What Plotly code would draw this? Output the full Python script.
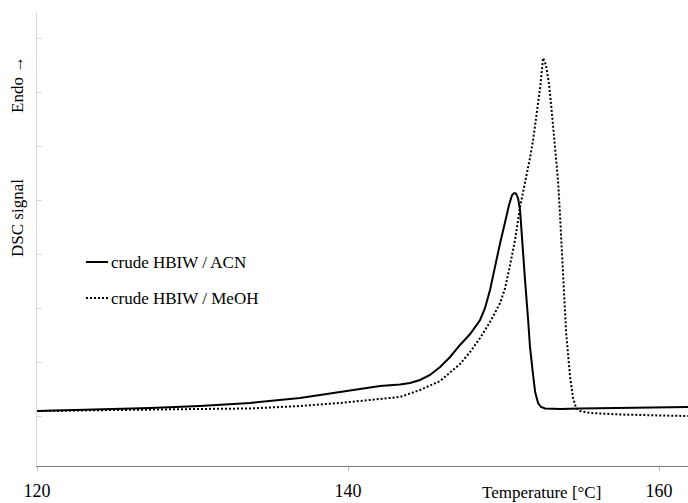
import plotly.graph_objects as go

# Temperature [°C] and DSC signal (arbitrary units, endo up)
acn_temp = [120.00, 124.05, 127.27, 130.48, 133.70, 136.91, 139.49, 142.06, 143.34, 143.99,
            144.63, 145.27, 145.92, 146.56, 147.20, 147.85, 148.49, 148.81, 149.13, 149.45,
            149.78, 150.10, 150.35, 150.55, 150.68, 150.80, 150.93, 151.06, 151.19, 151.38,
            151.58, 151.70, 151.90, 152.03, 152.22, 152.41, 152.67, 153.63, 154.92, 157.49,
            160.06, 161.86]
acn_signal = [0.111, 0.139, 0.166, 0.203, 0.259, 0.351, 0.462, 0.573, 0.601, 0.628,
              0.684, 0.776, 0.924, 1.109, 1.331, 1.534, 1.793, 2.015, 2.348, 2.810,
              3.216, 3.604, 3.919, 4.104, 4.140, 4.131, 4.048, 3.826, 3.364, 2.532,
              1.793, 1.294, 0.776, 0.462, 0.259, 0.185, 0.157, 0.148, 0.157, 0.166,
              0.185, 0.185]

meoh_temp = [120.00, 124.05, 127.27, 130.48, 133.70, 136.91, 139.49, 142.06, 143.34, 144.63,
             145.92, 147.20, 147.85, 148.49, 149.13, 149.78, 150.10, 150.42, 150.74, 151.06,
             151.38, 151.70, 151.90, 152.15, 152.35, 152.48, 152.54, 152.73, 152.93, 153.12,
             153.31, 153.50, 153.63, 153.83, 154.02, 154.28, 154.47, 154.66, 154.92, 155.56,
             157.49, 160.06, 161.86]
meoh_signal = [0.111, 0.129, 0.139, 0.148, 0.157, 0.203, 0.259, 0.333, 0.370, 0.499,
               0.665, 0.980, 1.201, 1.460, 1.756, 2.107, 2.384, 2.810, 3.272, 3.882,
               4.325, 4.787, 5.120, 5.619, 6.081, 6.451, 6.636, 6.506, 6.137, 5.582,
               5.028, 4.381, 3.734, 2.532, 1.571, 0.739, 0.351, 0.166, 0.111, 0.074,
               0.046, 0.028, 0.018]

series_names = ["crude HBIW / ACN", "crude HBIW / MeOH"]
x_ticks = [120, 140, 160]
y_ticks = [0, 1, 2, 3, 4, 5, 6, 7]

FONT = "Liberation Serif, Times New Roman, serif"

fig = go.Figure()
fig.add_trace(go.Scatter(x=acn_temp, y=acn_signal, mode="lines", name=series_names[0],
                         line=dict(color="#000000", width=2)))
fig.add_trace(go.Scatter(x=meoh_temp, y=meoh_signal, mode="lines", name=series_names[1],
                         line=dict(color="#000000", width=2, dash="2px,2px")))

L, T, W, H = 37, 12, 651, 454


def px(x):
    return (x - L) / W


def py(y):
    return (T + H - y) / H


annotations = [
    dict(text="Endo →", x=px(17), y=py(85), xref="paper", yref="paper", textangle=-90,
         showarrow=False, font=dict(family=FONT, size=17, color="#000"), xanchor="center", yanchor="middle"),
    dict(text="DSC signal", x=px(17), y=py(218), xref="paper", yref="paper", textangle=-90,
         showarrow=False, font=dict(family=FONT, size=17, color="#000"), xanchor="center", yanchor="middle"),
    dict(text="Temperature [°C]", x=px(541), y=py(492), xref="paper", yref="paper",
         showarrow=False, font=dict(family=FONT, size=17, color="#000"), xanchor="center", yanchor="middle"),
]
shapes = []
legend_rows = [(262, "solid"), (298, "2px,2px")]
for name, (ry, dash) in zip(series_names, legend_rows):
    shapes.append(dict(type="line", xref="paper", yref="paper", x0=px(86), x1=px(108), y0=py(ry), y1=py(ry),
                       line=dict(color="#000", width=2, dash=dash)))
    annotations.append(dict(text=name, x=px(109), y=py(ry), xref="paper", yref="paper", showarrow=False,
                            xanchor="left", yanchor="middle", font=dict(family=FONT, size=17, color="#000")))

fig.update_layout(
    width=688, height=503,
    margin=dict(l=L, r=0, t=T, b=503 - T - H, pad=0),
    paper_bgcolor="white", plot_bgcolor="white",
    showlegend=False,
    font=dict(family=FONT, size=17, color="#000"),
    annotations=annotations,
    shapes=shapes,
    xaxis=dict(range=[120, 161.86], tickvals=x_ticks, ticktext=[str(v) for v in x_ticks],
               showgrid=False, zeroline=False, showline=True, linecolor="#7f7f7f", linewidth=1,
               ticks="outside", ticklen=4, tickcolor="#bfbfbf", tickfont=dict(family=FONT, size=18),
               ticklabelstandoff=4),
    yaxis=dict(range=[-0.906, 7.486], tickvals=y_ticks, showticklabels=False,
               showgrid=False, zeroline=False, showline=True, linecolor="#d9d9d9", linewidth=1,
               ticks="inside", ticklen=5, tickcolor="#d9d9d9"),
)

fig.write_html("out.html")
